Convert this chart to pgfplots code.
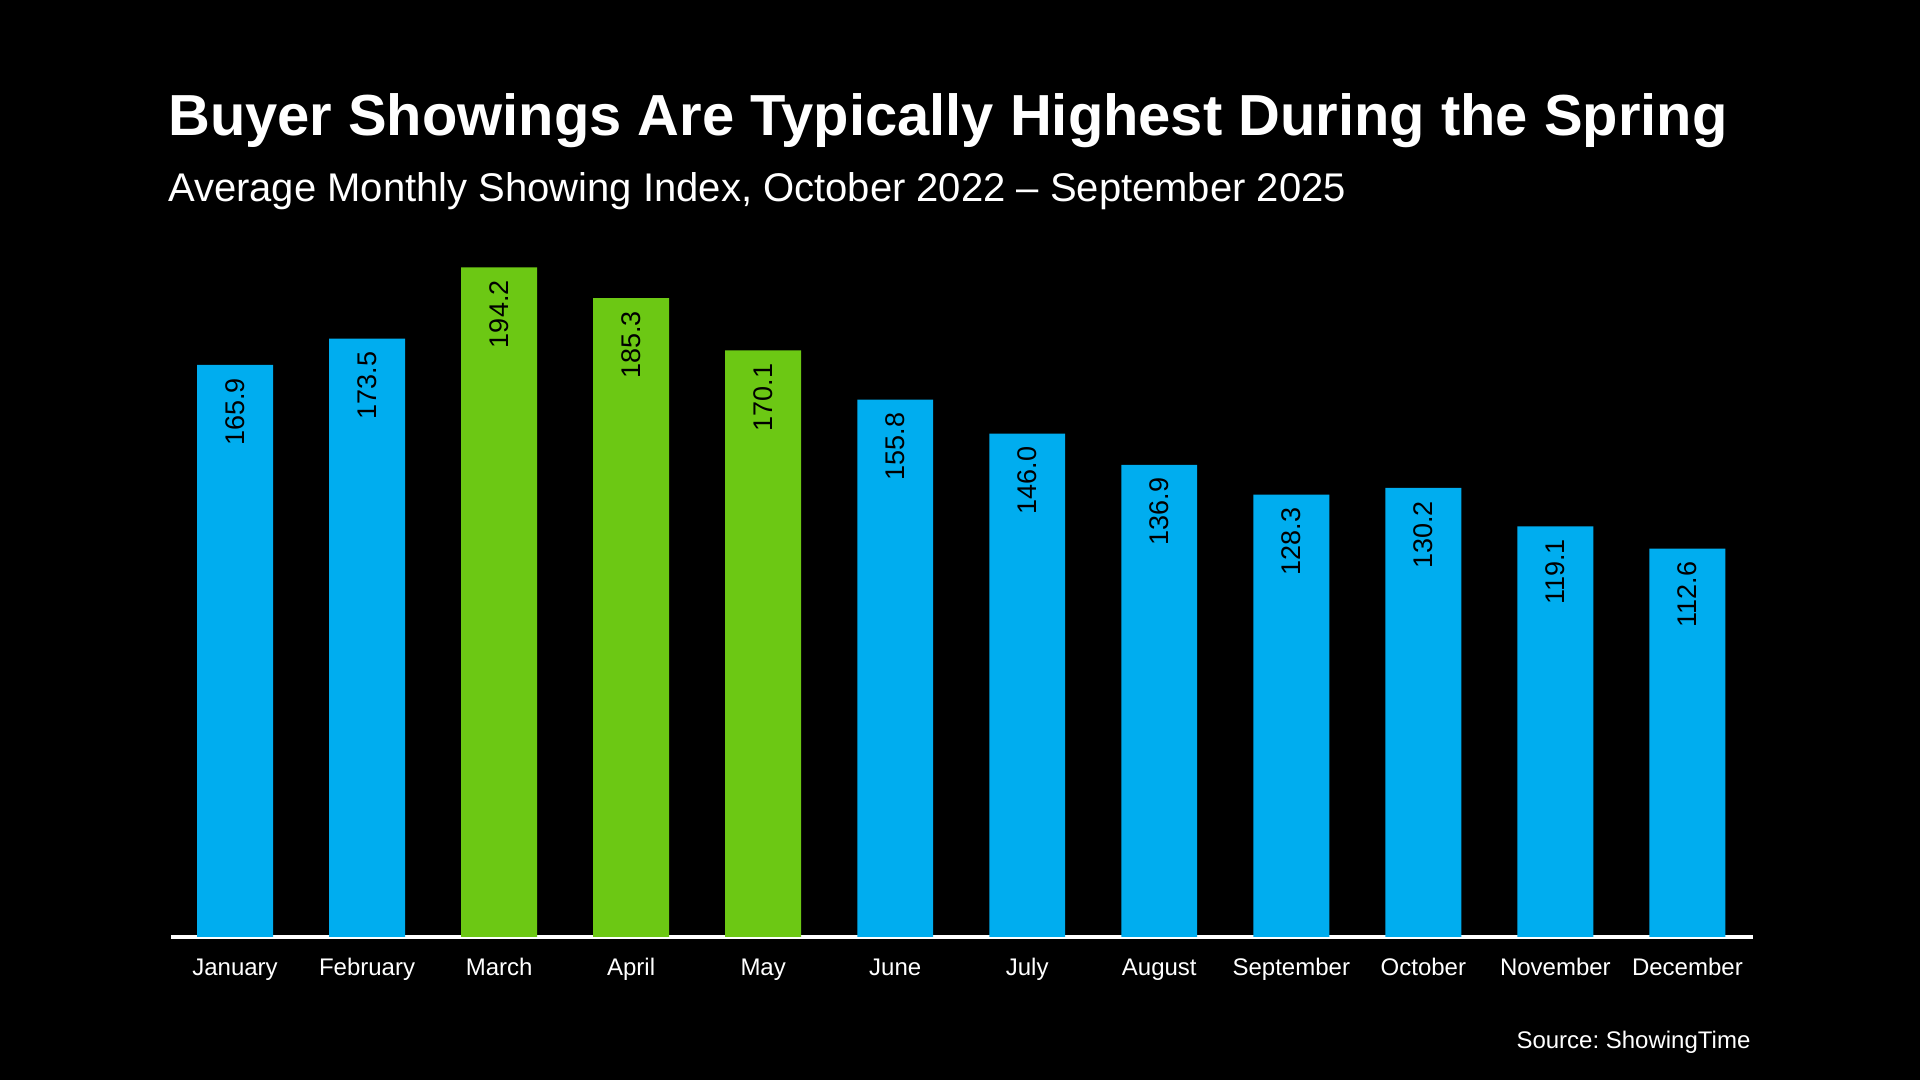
\documentclass[border=0pt]{standalone}
\usepackage{pgfplots}
\pgfplotsset{compat=1.18}
\usepackage{fontspec}
\setmainfont{Liberation Sans}
\frenchspacing
\definecolor{barblue}{HTML}{00ADEF}
\definecolor{bargreen}{HTML}{6CC814}

\begin{document}
\begin{tikzpicture}
    \fill[black] (0,0) rectangle (960pt,540pt);
    \useasboundingbox (0,0) rectangle (960pt,540pt);

    \node[anchor=base west, text=white, inner sep=0pt, font=\fontsize{28.95}{34}\selectfont\bfseries]
        at (83.9pt,472pt) {Buyer Showings Are Typically Highest During the Spring};
    \node[anchor=base west, text=white, inner sep=0pt, font=\fontsize{20}{24}\selectfont]
        at (83.9pt,439pt) {Average Monthly Showing Index, October 2022 -- September 2025};
    \node[anchor=base east, text=white, inner sep=0pt, font=\fontsize{12}{14}\selectfont]
        at (875.4pt,15.9pt) {Source: ShowingTime};

    \begin{axis}[
        at={(85.7pt,71.6pt)}, anchor=south west,
        scale only axis,
        width=791pt, height=344.7pt,
        ybar, bar width=0.575, bar shift=0pt,
        xmin=-0.482, xmax=11.5,
        ymin=0, ymax=200,
        axis x line*=bottom,
        axis y line=none,
        x axis line style={white, line width=1.8pt, -},
        xtick={0,...,11},
        xticklabels={January,February,March,April,May,June,July,August,September,October,November,December},
        major tick length=0pt,
        xticklabel style={text=white, font=\fontsize{12}{14}\selectfont,
            text height=8.6pt, text depth=2.5pt, yshift=-7pt},
        /pgf/number format/assume math mode=true,
        nodes near coords={\pgfmathprintnumber[fixed,fixed zerofill,precision=1]{\pgfplotspointmeta}},
        nodes near coords style={anchor=east, rotate=90, xshift=-3pt, text=black,
            font=\fontsize{13.5}{16}\selectfont},
    ]
        \addplot[fill=barblue, draw=none] coordinates {
            (0,165.9) (1,173.5) (5,155.8) (6,146.0) (7,136.9) (8,128.3) (9,130.2) (10,119.1) (11,112.6)
        };
        \addplot[fill=bargreen, draw=none] coordinates {
            (2,194.2) (3,185.3) (4,170.1)
        };
    \end{axis}
\end{tikzpicture}
\end{document}
